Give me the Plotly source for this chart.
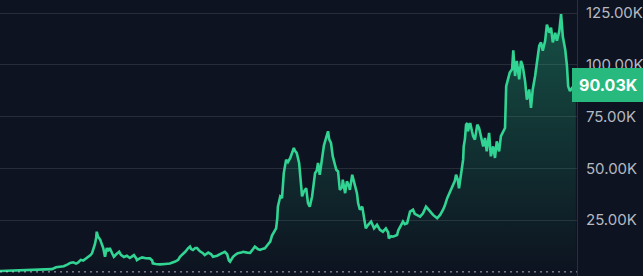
import plotly.graph_objects as go

# time (decimal years) and price (thousands USD)
years = [
    2016.32, 2016.49, 2016.66, 2016.83, 2017.00, 2017.12, 2017.20, 2017.27, 2017.34, 2017.40,
    2017.46, 2017.51, 2017.56, 2017.61, 2017.64, 2017.69, 2017.73, 2017.78, 2017.81, 2017.85,
    2017.88, 2017.91, 2017.93, 2017.95, 2017.96, 2017.98, 2018.00, 2018.02, 2018.03, 2018.07,
    2018.10, 2018.13, 2018.15, 2018.18, 2018.22, 2018.25, 2018.29, 2018.34, 2018.37, 2018.42,
    2018.47, 2018.52, 2018.56, 2018.59, 2018.63, 2018.64, 2018.69, 2018.73, 2018.79, 2018.86,
    2018.90, 2018.91, 2018.96, 2019.03, 2019.12, 2019.20, 2019.29, 2019.34, 2019.37, 2019.42,
    2019.46, 2019.51, 2019.54, 2019.56, 2019.59, 2019.63, 2019.66, 2019.69, 2019.71, 2019.76,
    2019.79, 2019.85, 2019.90, 2019.93, 2020.00, 2020.05, 2020.10, 2020.13, 2020.17, 2020.20,
    2020.22, 2020.25, 2020.27, 2020.32, 2020.35, 2020.41, 2020.44, 2020.51, 2020.56, 2020.61,
    2020.64, 2020.69, 2020.73, 2020.78, 2020.81, 2020.86, 2020.90, 2020.93, 2020.96, 2021.00,
    2021.02, 2021.03, 2021.05, 2021.07, 2021.10, 2021.12, 2021.13, 2021.17, 2021.20, 2021.24,
    2021.27, 2021.30, 2021.32, 2021.35, 2021.39, 2021.42, 2021.44, 2021.47, 2021.51, 2021.54,
    2021.57, 2021.61, 2021.64, 2021.66, 2021.69, 2021.71, 2021.74, 2021.78, 2021.81, 2021.83,
    2021.86, 2021.88, 2021.90, 2021.93, 2021.96, 2022.00, 2022.02, 2022.05, 2022.08, 2022.12,
    2022.13, 2022.17, 2022.20, 2022.24, 2022.25, 2022.29, 2022.32, 2022.35, 2022.37, 2022.39,
    2022.42, 2022.46, 2022.49, 2022.52, 2022.56, 2022.61, 2022.66, 2022.71, 2022.76, 2022.81,
    2022.86, 2022.90, 2022.91, 2022.95, 2022.98, 2023.05, 2023.07, 2023.10, 2023.15, 2023.18,
    2023.22, 2023.27, 2023.32, 2023.35, 2023.39, 2023.44, 2023.49, 2023.54, 2023.57, 2023.61,
    2023.66, 2023.73, 2023.78, 2023.83, 2023.86, 2023.90, 2023.95, 2024.00, 2024.03, 2024.05,
    2024.08, 2024.10, 2024.13, 2024.17, 2024.18, 2024.20, 2024.22, 2024.24, 2024.25, 2024.29,
    2024.32, 2024.34, 2024.37, 2024.41, 2024.44, 2024.47, 2024.51, 2024.54, 2024.57, 2024.61,
    2024.64, 2024.68, 2024.71, 2024.74, 2024.78, 2024.81, 2024.85, 2024.88, 2024.90, 2024.93,
    2024.96, 2025.00, 2025.02, 2025.05, 2025.08, 2025.12, 2025.15, 2025.18, 2025.22, 2025.25,
    2025.29, 2025.32, 2025.35, 2025.39, 2025.42, 2025.46, 2025.49, 2025.52, 2025.56, 2025.59,
    2025.63, 2025.66, 2025.69, 2025.73, 2025.76, 2025.80, 2025.83, 2025.86, 2025.90, 2025.93,
    2025.95, 2025.98, 2026.02, 2026.05, 2026.08,
]

price_k = [
    0.45, 0.6, 0.65, 0.75, 1.0, 1.2, 1.3, 2.2, 2.5, 2.7,
    3.5, 4.3, 4.6, 4.0, 4.4, 5.8, 5.5, 6.5, 6.8, 8.0,
    9.0, 11.5, 13.5, 16.5, 19.4, 17.0, 16.4, 15.5, 14.6, 11.5,
    7.3, 11.5, 10.0, 11.5, 9.0, 7.3, 8.5, 9.7, 8.2, 7.2,
    7.8, 6.7, 7.5, 8.1, 6.5, 5.7, 6.5, 7.0, 6.6, 6.5,
    5.5, 4.1, 3.8, 3.6, 3.8, 4.0, 5.0, 5.8, 7.3, 8.5,
    9.7, 11.5, 12.2, 11.0, 10.6, 11.5, 11.5, 10.5, 9.9, 9.0,
    8.1, 9.3, 8.5, 7.3, 7.8, 8.6, 9.3, 9.7, 8.5, 5.5,
    4.9, 6.5, 7.3, 8.5, 9.0, 9.3, 9.7, 9.3, 9.2, 11.0,
    12.2, 11.0, 10.6, 11.2, 11.4, 13.2, 14.6, 17.5, 19.0, 21.0,
    26.0, 31.5, 34.0, 36.4, 35.6, 42.0, 47.7, 54.2, 53.0, 55.0,
    57.0, 59.8, 58.5, 57.4, 52.6, 42.9, 36.5, 38.8, 40.4, 33.2,
    31.5, 36.4, 42.0, 47.7, 49.0, 52.6, 46.9, 55.8, 61.0, 63.0,
    66.0, 67.9, 64.0, 62.3, 55.8, 51.0, 49.3, 48.5, 39.6, 41.0,
    44.5, 38.0, 43.7, 41.0, 39.6, 46.9, 43.7, 40.4, 38.0, 33.2,
    30.0, 31.5, 25.1, 21.0, 22.7, 24.3, 21.0, 22.7, 20.3, 19.4,
    21.0, 19.0, 16.2, 17.2, 17.0, 17.8, 20.0, 21.9, 24.3, 23.0,
    23.5, 29.1, 30.0, 28.0, 27.5, 26.7, 28.3, 31.5, 30.5, 29.1,
    27.5, 25.9, 27.5, 30.0, 32.0, 35.6, 38.8, 42.1, 44.0, 46.9,
    44.5, 40.4, 47.0, 54.2, 60.6, 64.0, 71.1, 71.9, 67.9, 71.9,
    67.9, 65.5, 63.9, 71.1, 69.5, 65.5, 60.6, 64.7, 58.2, 67.1,
    55.8, 60.6, 55.0, 63.0, 58.2, 65.5, 67.9, 69.5, 89.7, 93.0,
    96.2, 97.8, 107.0, 94.6, 101.9, 93.0, 101.9, 99.4, 92.1, 83.2,
    88.1, 79.2, 88.1, 94.6, 101.9, 109.2, 110.8, 106.8, 111.6, 119.4,
    115.5, 117.9, 110.8, 115.5, 111.6, 116.3, 124.5, 113.5, 107.4, 99.4,
    89.7, 87.3, 88.9, 88.1, 90.03,
]

tick_values = [25, 50, 75, 100, 125]
tick_labels = ["25.00K", "50.00K", "75.00K", "100.00K", "125.00K"]
last_label = "90.03K"

BG = "#0d1320"
LINE = "#31d492"
BADGE = "#27b97e"

fig = go.Figure()
fig.add_trace(go.Scatter(
    x=years, y=price_k, mode="lines",
    line=dict(color=LINE, width=2.6),
    fill="tozeroy",
    fillgradient=dict(
        type="vertical",
        colorscale=[[0, "rgba(40,200,140,0.0)"], [1, "rgba(40,200,140,0.34)"]],
    ),
    hoverinfo="skip",
))

fig.update_layout(
    width=643, height=276,
    margin=dict(l=0, r=66, t=0, b=0),
    paper_bgcolor=BG, plot_bgcolor=BG,
    showlegend=False,
    font=dict(family="Inter, Roboto, sans-serif"),
    xaxis=dict(
        range=[years[0], years[-1] + 0.02],
        showgrid=False, zeroline=False, showticklabels=False, showline=False,
    ),
    yaxis=dict(
        side="right",
        range=[-2.0, 131.3],
        tickvals=tick_values, ticktext=tick_labels,
        tickfont=dict(size=15, color="#b5b9c2"),
        ticks="", ticklabelstandoff=5,
        showgrid=True, gridcolor="#262c38", gridwidth=1,
        zeroline=False,
        showline=True, linecolor="#2a303c", linewidth=1,
    ),
    shapes=[dict(
        type="line", xref="paper", yref="y", x0=0, x1=1, y0=0, y1=0,
        line=dict(color="rgba(220,225,235,0.75)", width=1, dash="2px,4px"),
    )],
    annotations=[dict(
        xref="paper", yref="y", x=1, y=price_k[-1],
        xanchor="left", yanchor="middle", xshift=-5,
        text=f"<b>{last_label}</b>", showarrow=False,
        font=dict(size=16, color="white", family="Inter, sans-serif"),
        bgcolor=BADGE, bordercolor=BADGE, borderwidth=1, borderpad=6,
    )],
)

fig.write_html("out.html")
